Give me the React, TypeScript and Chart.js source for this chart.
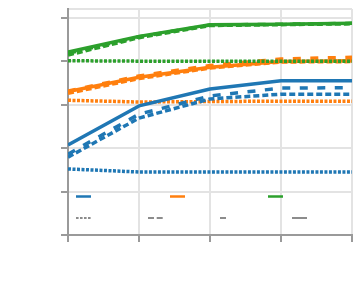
import { useEffect, useRef } from 'react';
import { Chart, registerables } from 'chart.js';

Chart.register(...registerables);

// x positions (5 evenly spaced steps) and y ticks
const xValues = [0, 1, 2, 3, 4];
const yTicks = [0, 1, 2, 3, 4, 5];
const yMax = 5.2;

// blue group
const blueSolid = [2.07, 2.97, 3.36, 3.55, 3.55];
const blueDashed = [1.79, 2.69, 3.13, 3.24, 3.24];
const blueSparse = [1.86, 2.78, 3.2, 3.38, 3.39];
const blueDotted = [1.52, 1.45, 1.45, 1.45, 1.45];

// green group
const greenSolid = [4.21, 4.57, 4.84, 4.85, 4.87];
const greenDashed = [4.14, 4.54, 4.82, 4.84, 4.86];
const greenSparse = [4.18, 4.56, 4.83, 4.85, 4.87];
const greenDotted = [4.01, 4.0, 4.0, 4.0, 4.0];

// orange group
const orangeSolid = [3.3, 3.63, 3.86, 3.99, 4.01];
const orangeDashed = [3.26, 3.6, 3.84, 3.98, 3.99];
const orangeSparse = [3.31, 3.66, 3.9, 4.05, 4.09];
const orangeDotted = [3.1, 3.06, 3.07, 3.08, 3.08];

const COLORS: Record<string, string> = {
  blue: '#1f77b4',
  orange: '#ff7f0e',
  green: '#2ca02c',
};
const DASHES: Record<string, number[]> = {
  solid: [],
  dashed: [6, 3],
  sparse: [8, 9.5],
  dotted: [3, 1.5],
};

// first listed is drawn on top
const seriesList: [string, string, number[]][] = [
  ['blue', 'solid', blueSolid],
  ['blue', 'sparse', blueSparse],
  ['blue', 'dashed', blueDashed],
  ['blue', 'dotted', blueDotted],
  ['green', 'dotted', greenDotted],
  ['green', 'solid', greenSolid],
  ['green', 'sparse', greenSparse],
  ['green', 'dashed', greenDashed],
  ['orange', 'dotted', orangeDotted],
  ['orange', 'sparse', orangeSparse],
  ['orange', 'solid', orangeSolid],
  ['orange', 'dashed', orangeDashed],
];

const legendColors = ['blue', 'orange', 'green'];
const legendStyles = ['dotted', 'dashed', 'sparse', 'solid'];
const LEGEND_DASHES: Record<string, number[]> = {
  solid: [],
  dashed: [6, 2.7],
  sparse: [6, 10],
  dotted: [2.6, 1.4],
};

const GRID = '#e3e3e3';
const AXIS = '#9a9a9a';

const legendPlugin = {
  id: 'lineStyleLegend',
  afterDraw(chart: any) {
    const { ctx, chartArea: a } = chart;
    ctx.save();
    ctx.lineCap = 'butt';
    const row1X = [8, 102, 200];
    legendColors.forEach((c, i) => {
      ctx.beginPath();
      ctx.setLineDash([]);
      ctx.strokeStyle = COLORS[c];
      ctx.lineWidth = 2.5;
      const x = a.left + row1X[i];
      const y = a.bottom - 38.5;
      ctx.moveTo(x, y);
      ctx.lineTo(x + 15, y);
      ctx.stroke();
    });
    const row2X = [8, 80, 152, 224];
    legendStyles.forEach((s, i) => {
      ctx.beginPath();
      ctx.setLineDash(LEGEND_DASHES[s]);
      ctx.strokeStyle = '#8c8c8c';
      ctx.lineWidth = 2;
      const x = a.left + row2X[i];
      const y = a.bottom - 17;
      ctx.moveTo(x, y);
      ctx.lineTo(x + 15, y);
      ctx.stroke();
    });
    ctx.restore();
  },
};

export default function App() {
  const ref = useRef<HTMLCanvasElement>(null);

  useEffect(() => {
    if (!ref.current) return;
    const chart = new Chart(ref.current, {
      type: 'line',
      data: {
        datasets: seriesList.map(([c, s, vals]) => ({
          label: c + '-' + s,
          data: vals.map((v, i) => ({ x: xValues[i], y: v })),
          borderColor: COLORS[c],
          backgroundColor: COLORS[c],
          borderWidth: 3.5,
          borderDash: DASHES[s],
          borderCapStyle: 'butt',
          borderJoinStyle: 'round',
          pointRadius: 0,
          tension: 0,
          fill: false,
        })),
      },
      options: {
        animation: false,
        responsive: true,
        maintainAspectRatio: false,
        layout: { padding: { top: 9, right: 8, left: 0, bottom: 0 } },
        plugins: {
          legend: { display: false },
          tooltip: { enabled: false },
        },
        scales: {
          x: {
            type: 'linear',
            min: xValues[0],
            max: xValues[xValues.length - 1],
            ticks: { display: false, stepSize: 1 },
            grid: {
              color: GRID,
              lineWidth: 2,
              tickColor: AXIS,
              tickLength: 7,
            },
            border: { color: AXIS, width: 2 },
            afterFit: (s: any) => {
              s.height = 53;
            },
          },
          y: {
            min: yTicks[0],
            max: yMax,
            ticks: { display: false, stepSize: 1 },
            afterBuildTicks: (s: any) => {
              s.ticks = [...yTicks, yMax].map((v) => ({ value: v }));
            },
            grid: {
              color: GRID,
              lineWidth: 2,
              tickColor: (ctx: any) =>
                ctx.tick && ctx.tick.value === yMax ? 'rgba(0,0,0,0)' : AXIS,
              tickLength: 7,
            },
            border: { color: AXIS, width: 2 },
            afterFit: (s: any) => {
              s.width = 68;
            },
          },
        },
      },
      plugins: [legendPlugin],
    } as any);
    return () => chart.destroy();
  }, []);

  return (
    <div style={{ position: 'absolute', left: 0, top: 0, width: 360, height: 288 }}>
      <canvas ref={ref} />
    </div>
  );
}
